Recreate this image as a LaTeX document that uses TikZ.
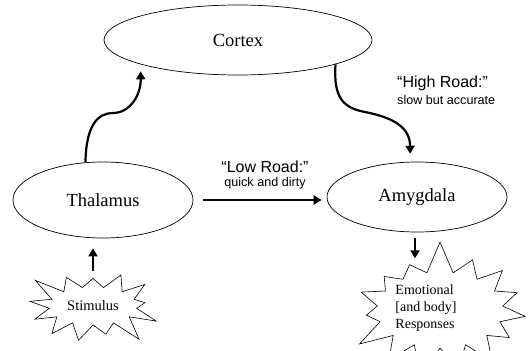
\documentclass[tikz,border=0pt]{standalone}
\usepackage{fontspec}
\setmainfont{Liberation Serif}
\newfontfamily\roadfont{Liberation Sans}
\usetikzlibrary{positioning,calc}
\usetikzlibrary{arrows.meta,shapes.geometric,shapes.symbols}
\tikzset{
	region/.style={ellipse,draw=black,line width=0.7pt,inner sep=0pt,font=\fontsize{18.5}{20}\selectfont},
	burst/.style={starburst,draw=black,line width=0.6pt,inner sep=0pt},
	road/.style={draw=black,line width=2.2pt,-{Triangle[length=8pt,width=9pt]}},
	roadtitle/.style={font=\roadfont\fontsize{16}{18}\selectfont,inner sep=0pt},
	roadnote/.style={font=\roadfont\fontsize{12.6}{14}\selectfont,inner sep=0pt},
}
\begin{document}
\begin{tikzpicture}[x=1pt,y=-1pt]
	\useasboundingbox (0,0) rectangle (529,350);
	\clip (0,0) rectangle (529,350);
	\node[region,minimum width=268pt,minimum height=70pt] (cortex) at (238,40) {Cortex};
	\node[region,minimum width=180pt,minimum height=76pt] (thal) at (103,200) {Thalamus};
	\node[region,minimum width=180pt,minimum height=70pt] (amyg) at (417,197) {Amygdala};
	\node[burst,minimum width=142pt,minimum height=92pt,starburst points=13,
		starburst point height=27pt,random starburst=3,font=\fontsize{14.5}{16}\selectfont] (stim) at (93,306) {Stimulus};
	\node[burst,minimum width=192pt,minimum height=142pt,starburst points=15,
		starburst point height=33pt,random starburst=7] (resp) at (440,310) {};
	\node[align=left,font=\fontsize{14}{17}\selectfont,inner sep=0pt] (resptext) at (426,308) {Emotional\\{[and body]}\\Responses};
	% the two roads
	\draw[road,shorten >=7pt] (thal.115) .. controls (86,125) and (98,113) .. (113,113)
		.. controls (130,113) and (141,95) .. (cortex.194);
	\draw[road,shorten >=8pt] (cortex.346) .. controls (333,100) and (345,108) .. (365,112)
		.. controls (395,118) and (410,128) .. (amyg.101);
	\draw[road,shorten <=10pt,shorten >=5pt] (thal.east) -- (thal.east -| amyg.west);
	\node[roadtitle] (lowtitle) at (265,167) {“Low Road:”};
	\node[roadnote] (lownote) at (265,183) {quick and dirty};
	\node[roadtitle,anchor=west] (hightitle) at (397,83) {“High Road:”};
	\node[roadnote,anchor=west] (highnote) at (397,100) {slow but accurate};
	% in and out
	\draw[road] ($(stim.center)+(0,-35)$) -- ($(stim.center |- thal.south)+(0,10)$);
	\draw[road] ($(amyg.south)+(-2,6)$) -- ($(amyg.south)+(-2,26)$);
\end{tikzpicture}
\end{document}
